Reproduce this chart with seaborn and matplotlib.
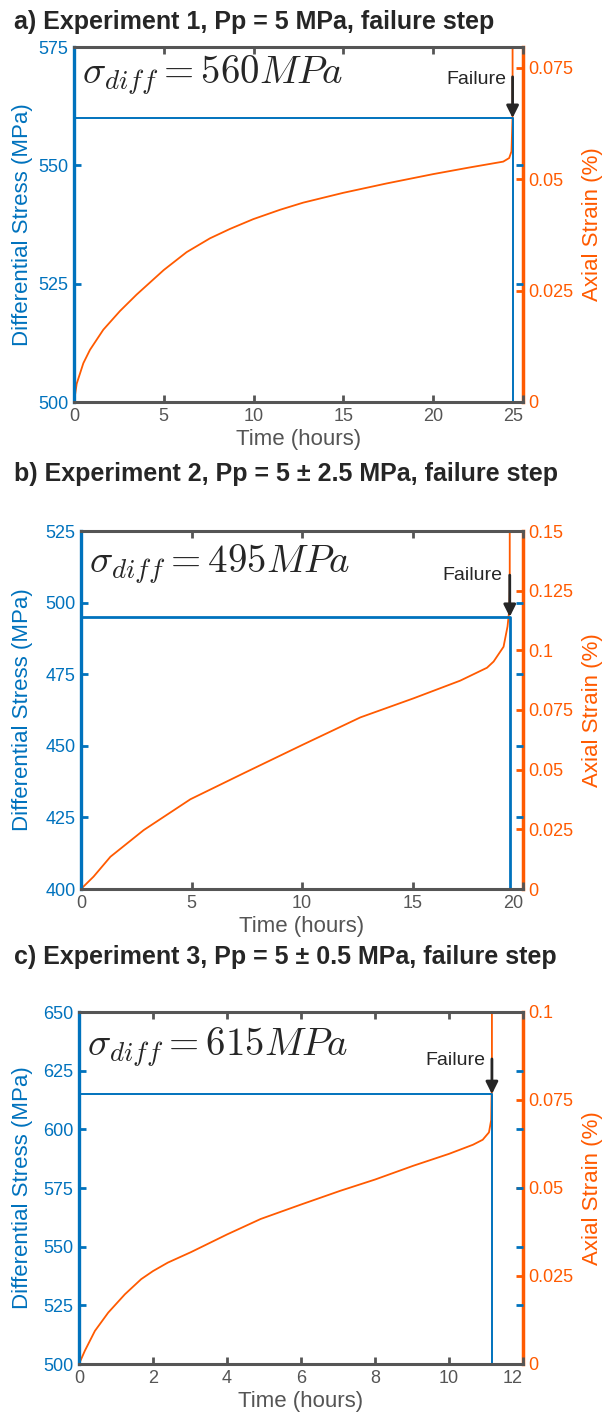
import numpy as np
import pandas as pd
import matplotlib
matplotlib.use("Agg")
import matplotlib.pyplot as plt
import seaborn as sns
from matplotlib.ticker import FuncFormatter

sns.set_style("white")
plt.rcParams['font.family'] = ['Liberation Sans', 'DejaVu Sans']
plt.rcParams['mathtext.fontset'] = 'cm'

BLUE = '#0072BD'
ORANGE = '#FF5A00'
GRAY = '#555555'
TXT = '#262626'

# ---------------- data ----------------
titles = ["a) Experiment 1, Pp = 5 MPa, failure step",
          "b) Experiment 2, Pp = 5 \u00b1 2.5 MPa, failure step",
          "c) Experiment 3, Pp = 5 \u00b1 0.5 MPa, failure step"]
stress_labels = [r"$\sigma_{diff} = 560 MPa$",
                 r"$\sigma_{diff} = 495 MPa$",
                 r"$\sigma_{diff} = 615 MPa$"]

# Experiment 1
a_time = [0, 0.15, 0.52, 0.89, 1.63, 2.56, 3.49, 5.0, 6.27, 7.57, 8.68, 9.98,
          11.47, 12.76, 14.99, 17.4, 20.0, 22.04, 23.9, 24.23, 24.36, 24.42, 24.42]
a_strain = [0, 0.0041, 0.0087, 0.0117, 0.0162, 0.0204, 0.0241, 0.0296, 0.0336,
            0.0367, 0.0388, 0.0410, 0.0431, 0.0447, 0.0469, 0.0490, 0.0511,
            0.0526, 0.0539, 0.0547, 0.0562, 0.0643, 0.09]
a_stress_time = [0, 0, 24.42, 24.42]
a_stress = [500, 560, 560, 500]

# Experiment 2
b_time = [0, 0.57, 1.33, 2.84, 4.95, 7.36, 10.0, 12.64, 15.05, 17.16, 18.37,
          18.67, 19.12, 19.3, 19.38, 19.40, 19.40]
b_strain = [0, 0.0052, 0.0135, 0.0247, 0.0376, 0.0485, 0.0603, 0.0719, 0.0799,
            0.0873, 0.0927, 0.0953, 0.1015, 0.110, 0.117, 0.125, 0.16]
b_stress_time = [0, 0, 19.40, 19.40]
b_stress = [400, 495, 495, 400]

# Experiment 3
c_time = [0, 0.16, 0.43, 0.79, 1.24, 1.68, 2.0, 2.40, 3.03, 4.0, 4.91, 6.0, 7.06,
          8.0, 9.03, 10.0, 10.65, 10.91, 11.08, 11.14, 11.15, 11.16, 11.16]
c_strain = [0, 0.0038, 0.0094, 0.0146, 0.0198, 0.0241, 0.0264, 0.0288, 0.0318,
            0.0368, 0.0412, 0.0453, 0.0492, 0.0524, 0.0563, 0.0597, 0.0623,
            0.0637, 0.0658, 0.0693, 0.0764, 0.078, 0.11]
c_stress_time = [0, 0, 11.16, 11.16]
c_stress = [500, 615, 615, 500]

xticks_list = [[0, 5, 10, 15, 20, 25], [0, 5, 10, 15, 20], [0, 2, 4, 6, 8, 10, 12]]
yticks_list = [[500, 525, 550, 575], [400, 425, 450, 475, 500, 525],
               [500, 525, 550, 575, 600, 625, 650]]
y2ticks_list = [[0, 0.025, 0.05, 0.075], [0, 0.025, 0.05, 0.075, 0.1, 0.125, 0.15],
                [0, 0.025, 0.05, 0.075, 0.1]]
y2max = [0.0796, 0.15, 0.1]
failure_t = [24.42, 19.40, 11.16]
failure_s = [560, 495, 615]
arrow_tail = [568.7, 509.6, 630.0]
fail_text_xy = [(24.05, 568.2), (19.05, 509.3), (10.97, 629.5)]
stress_lw = [1.4, 2.0, 1.4]

experiments = [
    (a_time, a_strain, a_stress_time, a_stress),
    (b_time, b_strain, b_stress_time, b_stress),
    (c_time, c_strain, c_stress_time, c_stress),
]

# ---------------- layout (pixels) ----------------
W, H = 605, 1418
boxes = [(74, 47, 523, 402), (81, 531, 523, 889), (79, 1012, 523, 1364)]
title_base = [29, 481, 964]
sigma_base = [0.897, 0.885, 0.877]

fig = plt.figure(figsize=(W / 100, H / 100), dpi=100)

fmt = FuncFormatter(lambda v, p: "{:g}".format(round(v, 6)))

for i, (tt, ss, st, sv) in enumerate(experiments):
    l, t, r, b = boxes[i]
    wpx, hpx = r - l, b - t
    ax = fig.add_axes([l / W, (H - b) / H, wpx / W, hpx / H])
    ax2 = ax.twinx()

    df_stress = pd.DataFrame({"Time": st, "Stress": sv})
    df_strain = pd.DataFrame({"Time": tt, "Strain": ss})

    sns.lineplot(data=df_stress, x="Time", y="Stress", ax=ax, color=BLUE,
                 lw=stress_lw[i], sort=False, estimator=None, legend=False)
    sns.lineplot(data=df_strain, x="Time", y="Strain", ax=ax2, color=ORANGE,
                 lw=1.3, sort=False, estimator=None, legend=False)

    xt, yt, y2t = xticks_list[i], yticks_list[i], y2ticks_list[i]
    ax.set_xticks(xt)
    ax.set_yticks(yt)
    ax2.set_yticks(y2t)
    ax.set_xlim(xt[0], xt[-1])
    ax.set_ylim(yt[0], yt[-1])
    ax2.set_ylim(0, y2max[i])
    ax2.yaxis.set_major_formatter(fmt)

    # spines
    for s in ['left', 'top', 'bottom']:
        ax2.spines[s].set_visible(False)
    ax.spines['right'].set_visible(False)
    ax.spines['left'].set_color(BLUE)
    ax.spines['left'].set_linewidth(2.4)
    for s in ['top', 'bottom']:
        ax.spines[s].set_color(GRAY)
        ax.spines[s].set_linewidth(2.2)
    ax2.spines['right'].set_color(ORANGE)
    ax2.spines['right'].set_linewidth(2.5)
    ax2.spines['right'].set_visible(True)

    ax.tick_params(axis='x', direction='in', top=True, bottom=True, length=5,
                   width=2, color=GRAY, labelcolor=GRAY, labelsize=13, pad=4)
    ax.tick_params(axis='y', direction='in', left=True, right=True, length=5,
                   width=2, color=BLUE, labelcolor=BLUE, labelsize=13, pad=4)
    ax2.tick_params(axis='y', direction='in', right=True, length=5, width=2,
                    color=ORANGE, labelcolor=ORANGE, labelsize=13, pad=4)

    # last x tick label sits left of the corner, as in the reference
    ax.get_xticklabels()[-1].set_horizontalalignment('right')

    ax.set_xlabel("Time (hours)", fontsize=16, color=GRAY)
    ax.set_ylabel("Differential Stress (MPa)", fontsize=16, color=BLUE)
    ax2.set_ylabel("Axial Strain (%)", fontsize=16, color=ORANGE)
    ax.yaxis.set_label_coords((33 - l) / wpx, 0.5)
    ax2.yaxis.set_label_coords((582 - l) / wpx, 0.5)
    ax.xaxis.set_label_coords(0.5, -27 / hpx)
    ax.grid(False)

    # annotation text
    ax.text(0.018, sigma_base[i], stress_labels[i], transform=ax.transAxes,
            fontsize=28, color=TXT, va='baseline', ha='left')
    ax.annotate("", xy=(failure_t[i], failure_s[i]),
                xytext=(failure_t[i], arrow_tail[i]),
                arrowprops=dict(arrowstyle='-|>', color=TXT, lw=2,
                                mutation_scale=18, shrinkA=0, shrinkB=0),
                zorder=10)
    ax.text(fail_text_xy[i][0], fail_text_xy[i][1], "Failure", fontsize=14,
            color=TXT, ha='right', va='center')
    ax.set_zorder(ax2.get_zorder() + 1)
    ax.patch.set_visible(False)

    fig.text(14 / W, (H - title_base[i]) / H, titles[i], fontsize=18,
             fontweight='bold', color=TXT, va='baseline', ha='left')

fig.savefig("out.png", dpi=100)
